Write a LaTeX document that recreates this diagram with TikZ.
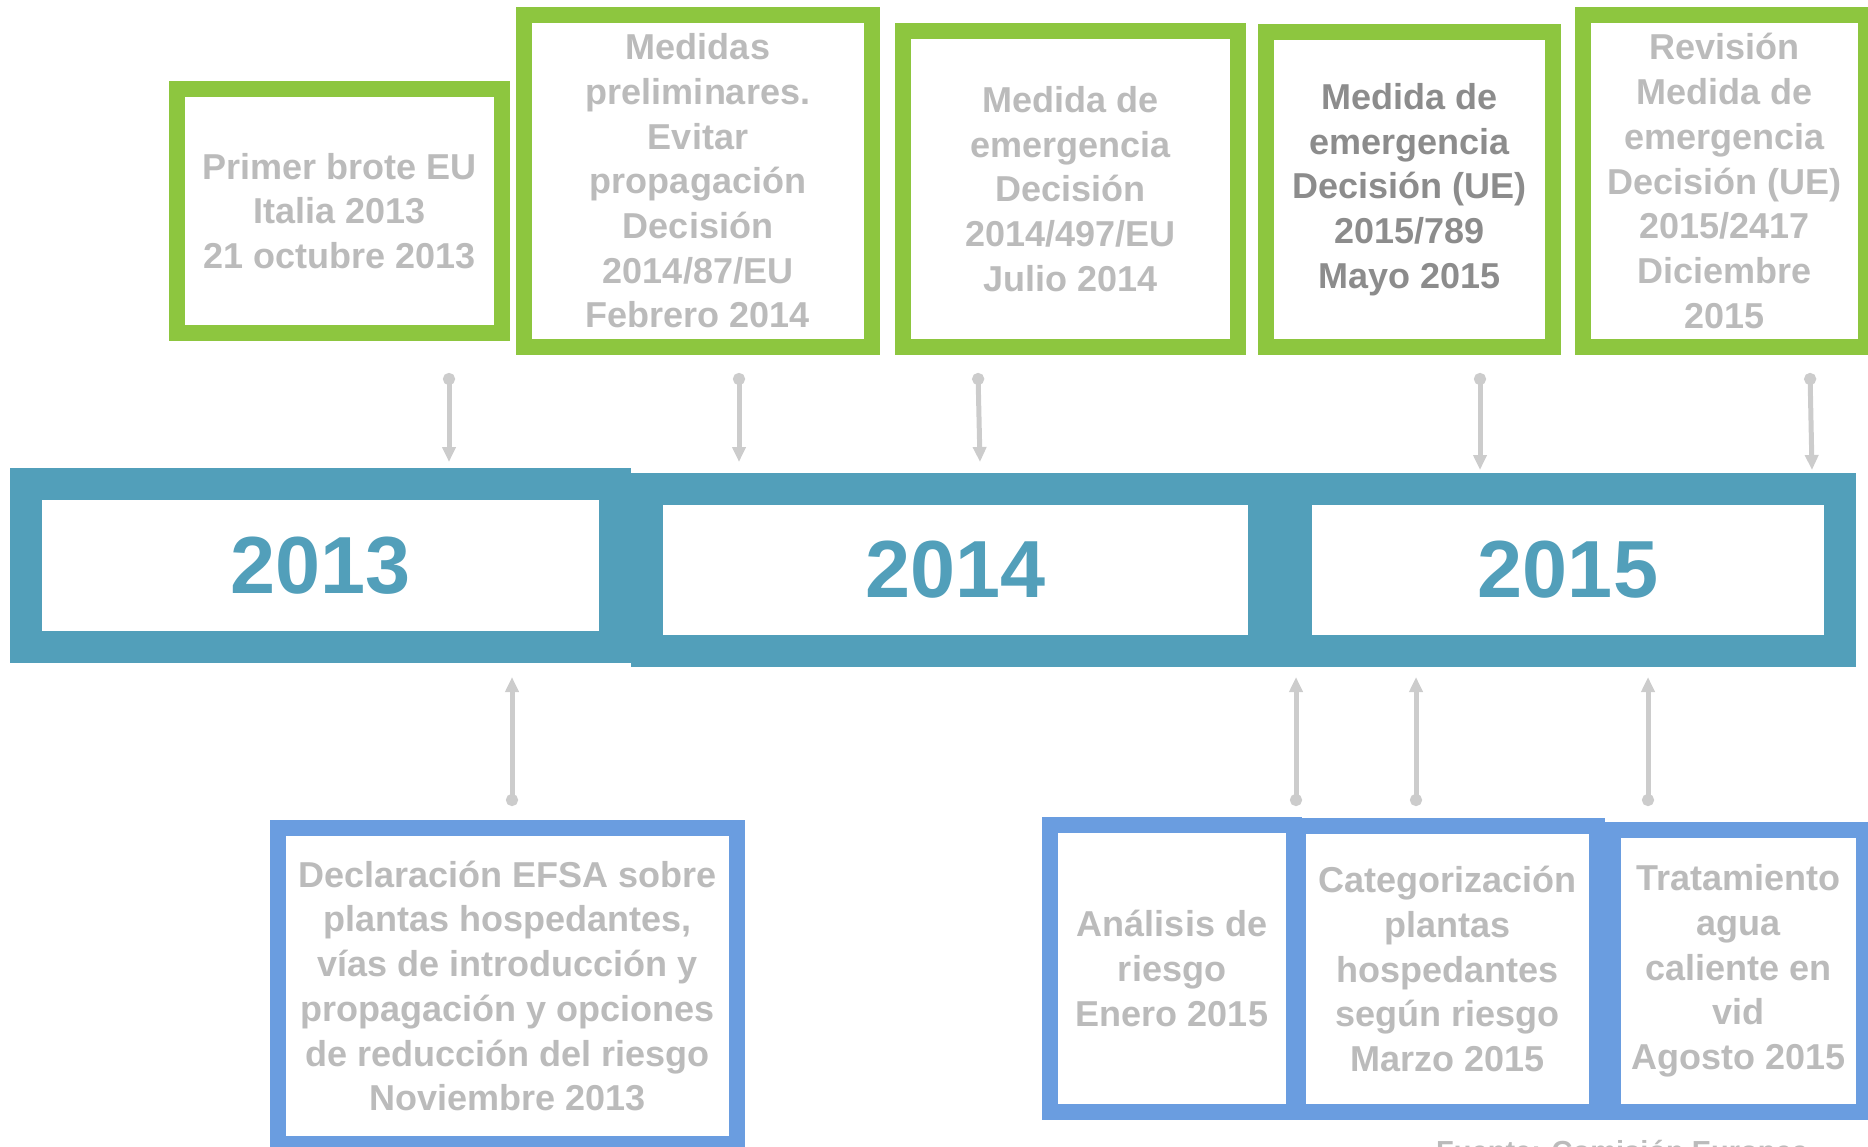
\documentclass[tikz,border=0pt]{standalone}
\usepackage{fontspec}
\setmainfont{Liberation Sans}
\usetikzlibrary{arrows.meta}
\definecolor{yearteal}{HTML}{529FBA}
\definecolor{eugreen}{HTML}{8DC63F}
\definecolor{efsablue}{HTML}{6A9DE0}
\definecolor{txtgray}{HTML}{BBBBBB}
\definecolor{dkgray}{HTML}{8C8C8C}
\definecolor{arrgray}{HTML}{CCCCCC}
\begin{document}
\begin{tikzpicture}[x=1pt,y=-1pt,
  greenbox/.style={draw=eugreen,line width=16pt,fill=white,inner sep=0pt,align=center,
    text=txtgray,font=\fontsize{36}{44.7}\selectfont\bfseries},
  bluebox/.style={greenbox,draw=efsablue},
  yearbox/.style={draw=yearteal,line width=32pt,fill=white,inner sep=0pt,
    text=yearteal,font=\fontsize{81}{90}\selectfont\bfseries},
  conn/.style={draw=arrgray,line width=5pt,{Circle[length=12pt]}-{Triangle[length=15pt,width=13pt]}}]
\useasboundingbox (0,0) rectangle (1868,1146);

\node[yearbox,minimum width=589pt,minimum height=163pt] (y13) at (320.5,565.5) {2013};
\node[yearbox,minimum width=617pt,minimum height=162pt] (y14) at (955.5,570) {2014};
\node[yearbox,minimum width=544pt,minimum height=162pt] (y15) at (1568,570) {2015};

\node[greenbox,minimum width=325pt,minimum height=244pt] (g1) at (339.5,211)
  {Primer brote EU\\Italia 2013\\21 octubre 2013};
\node[greenbox,minimum width=348pt,minimum height=332pt] (g2) at (698,181)
  {Medidas\\preliminares.\\Evitar\\propagación\\Decisión\\2014/87/EU\\Febrero 2014};
\node[greenbox,minimum width=335pt,minimum height=316pt] (g3) at (1070.5,189)
  {Medida de\\emergencia\\Decisión\\2014/497/EU\\Julio 2014};
\node[greenbox,text=dkgray,minimum width=287pt,minimum height=315pt] (g4) at (1409.5,189.5)
  {Medida de\\emergencia\\Decisión (UE)\\2015/789\\Mayo 2015};
\node[greenbox,minimum width=283pt,minimum height=332pt] (g5) at (1724.5,181)
  {Revisión\\Medida de\\emergencia\\Decisión (UE)\\2015/2417\\Diciembre\\2015};

\node[bluebox,minimum width=459pt,minimum height=316pt] (b1) at (507.5,986)
  {Declaración EFSA sobre\\plantas hospedantes,\\vías de introducción y\\propagación y opciones\\de reducción del riesgo\\Noviembre 2013};
\node[bluebox,minimum width=244pt,minimum height=287pt] (b2) at (1172,968.5)
  {Análisis de\\riesgo\\Enero 2015};
\node[bluebox,minimum width=299pt,minimum height=286pt] (b3) at (1447.5,969)
  {Categorización\\plantas\\hospedantes\\según riesgo\\Marzo 2015};
\node[bluebox,minimum width=251pt,minimum height=282pt] (b4) at (1738.5,971)
  {Tratamiento\\agua\\caliente en\\vid\\Agosto 2015};

% arrows from the top boxes
\coordinate (a1) at (449,373);  \coordinate (a1e) at (449,462);
\coordinate (a2) at (739,373);  \coordinate (a2e) at (739,462);
\coordinate (a3) at (978,373);  \coordinate (a3e) at (980,462);
\coordinate (a4) at (1480,373); \coordinate (a4e) at (1480,470);
\coordinate (a5) at (1810,373); \coordinate (a5e) at (1812,470);
\draw[conn] (a1) -- (a1e);
\draw[conn] (a2) -- (a2e);
\draw[conn] (a3) -- (a3e);
\draw[conn] (a4) -- (a4e);
\draw[conn] (a5) -- (a5e);

% arrows from the bottom boxes
\coordinate (c1) at (512,806);  \coordinate (c1e) at (512,677);
\coordinate (c2) at (1296,806); \coordinate (c2e) at (1296,677);
\coordinate (c3) at (1416,806); \coordinate (c3e) at (1416,677);
\coordinate (c4) at (1648,806); \coordinate (c4e) at (1648,677);
\draw[conn] (c1) -- (c1e);
\draw[conn] (c2) -- (c2e);
\draw[conn] (c3) -- (c3e);
\draw[conn] (c4) -- (c4e);

\node[anchor=base west,inner sep=0pt,text=txtgray,font=\fontsize{29}{35}\selectfont\bfseries]
  (src) at (1436,1161) {Fuente: Comisión Europea}; % source
\end{tikzpicture}
\end{document}
